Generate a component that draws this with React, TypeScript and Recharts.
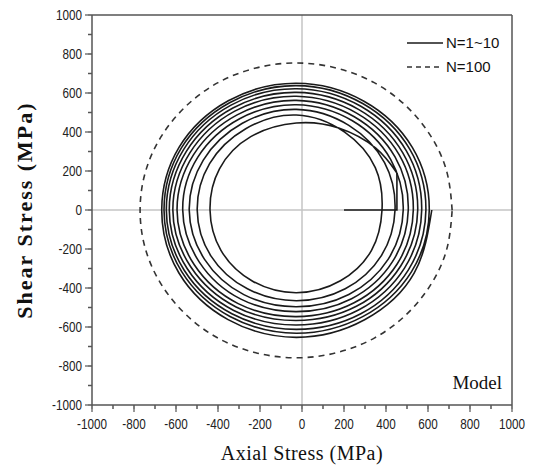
import React from 'react';
import { LineChart, Line, XAxis, YAxis, ReferenceLine } from 'recharts';

const xTicks = [-1000, -900, -800, -700, -600, -500, -400, -300, -200, -100, 0, 100, 200, 300, 400, 500, 600, 700, 800, 900, 1000];
const yTicks = [-1000, -900, -800, -700, -600, -500, -400, -300, -200, -100, 0, 100, 200, 300, 400, 500, 600, 700, 800, 900, 1000];

// Initial (elastic) loading segment of N=1~10
const elasticPath = [
  { x: 200, y: 0 },
  { x: 452, y: 0 },
  { x: 452, y: 190 },
];

// Cyclic spiral N=1~10 (points read every ~30 degrees around each cycle)
const cycle1 = [
  { x: 452, y: 190 }, { x: 350, y: 318 }, { x: 175, y: 420 }, { x: -27, y: 446 },
  { x: -244, y: 376 }, { x: -393, y: 211 }, { x: -438, y: 0 }, { x: -386, y: -207 },
  { x: -237, y: -364 }, { x: -27, y: -424 }, { x: 183, y: -363 }, { x: 331, y: -207 },
];
const cycle2 = [
  { x: 381, y: 0 }, { x: 349, y: 217 }, { x: 203, y: 399 }, { x: -27, y: 487 },
  { x: -268, y: 417 }, { x: -440, y: 238 }, { x: -499, y: 0 }, { x: -434, y: -235 },
  { x: -260, y: -404 }, { x: -27, y: -465 }, { x: 206, y: -404 }, { x: 378, y: -234 },
];
const cycle3 = [
  { x: 443, y: 0 }, { x: 393, y: 243 }, { x: 223, y: 434 }, { x: -27, y: 516 },
  { x: -284, y: 445 }, { x: -470, y: 256 }, { x: -537, y: 0 }, { x: -464, y: -253 },
  { x: -277, y: -434 }, { x: -27, y: -496 }, { x: 223, y: -433 }, { x: 410, y: -253 },
];
const cycle4 = [
  { x: 482, y: 0 }, { x: 422, y: 260 }, { x: 238, y: 459 }, { x: -27, y: 540 },
  { x: -297, y: 468 }, { x: -496, y: 271 }, { x: -568, y: 0 }, { x: -489, y: -267 },
  { x: -291, y: -457 }, { x: -27, y: -521 }, { x: 236, y: -455 }, { x: 431, y: -265 },
];
const cycle5 = [
  { x: 506, y: 0 }, { x: 443, y: 272 }, { x: 249, y: 478 }, { x: -27, y: 562 },
  { x: -309, y: 488 }, { x: -517, y: 283 }, { x: -595, y: 0 }, { x: -513, y: -281 },
  { x: -304, y: -480 }, { x: -27, y: -547 }, { x: 248, y: -476 }, { x: 453, y: -277 },
];
const cycle6 = [
  { x: 530, y: 0 }, { x: 463, y: 283 }, { x: 260, y: 497 }, { x: -27, y: 583 },
  { x: -320, y: 507 }, { x: -534, y: 293 }, { x: -615, y: 0 }, { x: -530, y: -291 },
  { x: -314, y: -497 }, { x: -27, y: -567 }, { x: 259, y: -494 }, { x: 470, y: -287 },
];
const cycle7 = [
  { x: 551, y: 0 }, { x: 480, y: 293 }, { x: 271, y: 515 }, { x: -27, y: 603 },
  { x: -329, y: 523 }, { x: -550, y: 302 }, { x: -632, y: 0 }, { x: -547, y: -300 },
  { x: -325, y: -515 }, { x: -27, y: -590 }, { x: 269, y: -513 }, { x: 488, y: -298 },
];
const cycle8 = [
  { x: 570, y: 0 }, { x: 497, y: 303 }, { x: 280, y: 532 }, { x: -27, y: 622 },
  { x: -338, y: 538 }, { x: -564, y: 310 }, { x: -646, y: 0 }, { x: -561, y: -309 },
  { x: -334, y: -532 }, { x: -27, y: -612 }, { x: 280, y: -532 }, { x: 506, y: -308 },
];
const cycle9 = [
  { x: 590, y: 0 }, { x: 513, y: 312 }, { x: 289, y: 546 }, { x: -27, y: 638 },
  { x: -345, y: 550 }, { x: -575, y: 317 }, { x: -657, y: 0 }, { x: -573, y: -316 },
  { x: -343, y: -546 }, { x: -27, y: -632 }, { x: 289, y: -547 }, { x: 521, y: -317 },
];
const cycle10 = [
  { x: 606, y: 0 }, { x: 526, y: 320 }, { x: 295, y: 558 }, { x: -27, y: 650 },
  { x: -351, y: 560 }, { x: -585, y: 322 }, { x: -668, y: 0 }, { x: -586, y: -323 },
  { x: -352, y: -562 }, { x: -27, y: -653 }, { x: 298, y: -563 }, { x: 534, y: -324 },
  { x: 618, y: 0 },
];
const cyclicPath = [
  ...cycle1, ...cycle2, ...cycle3, ...cycle4, ...cycle5,
  ...cycle6, ...cycle7, ...cycle8, ...cycle9, ...cycle10,
];

// N=100 stabilized loop, points read every 15 degrees
const n100Path = [
  { x: 715, y: -2 }, { x: 690, y: 194 }, { x: 615, y: 376 }, { x: 497, y: 532 },
  { x: 344, y: 653 }, { x: 164, y: 728 }, { x: -28, y: 754 }, { x: -220, y: 728 },
  { x: -400, y: 653 }, { x: -553, y: 532 }, { x: -671, y: 376 }, { x: -746, y: 194 },
  { x: -771, y: -2 }, { x: -746, y: -198 }, { x: -671, y: -380 }, { x: -553, y: -536 },
  { x: -400, y: -657 }, { x: -220, y: -732 }, { x: -28, y: -758 }, { x: 164, y: -732 },
  { x: 344, y: -657 }, { x: 497, y: -536 }, { x: 615, y: -380 }, { x: 690, y: -198 },
  { x: 715, y: -2 },
];

const legendLabels = ['N=1~10', 'N=100'];
const xTitle = 'Axial Stress (MPa)';
const yTitle = 'Shear Stress (MPa)';
const noteText = 'Model';

const TS = 4; // minor tick length
const EXT = 3; // extra length for major ticks
const X_TM = 9;
const Y_TM = 6;
const tickFont = "'Liberation Sans', Arial, sans-serif";
const isMajor = (v: number) => v % 200 === 0;

const XTick = (props: any) => {
  const { x, y, payload } = props;
  const v = payload.value;
  const lineTop = y - X_TM;
  return (
    <g>
      {isMajor(v) && <line x1={x} y1={lineTop} x2={x} y2={lineTop + EXT} stroke="#555" strokeWidth={1.2} />}
      {isMajor(v) && (
        <text x={0} y={0} dy="0.71em" textAnchor="middle" transform={`translate(${x},${y}) scale(0.78,1)`} fontSize={15} fontFamily={tickFont} fill="#222">
          {String(v)}
        </text>
      )}
    </g>
  );
};

const YTick = (props: any) => {
  const { x, y, payload } = props;
  const v = payload.value;
  const lineEnd = x + Y_TM;
  return (
    <g>
      {isMajor(v) && <line x1={lineEnd} y1={y} x2={lineEnd - EXT} y2={y} stroke="#555" strokeWidth={1.2} />}
      {isMajor(v) && (
        <text x={0} y={0} dy="0.355em" textAnchor="end" transform={`translate(${x},${y}) scale(0.78,1)`} fontSize={15} fontFamily={tickFont} fill="#222">
          {String(v)}
        </text>
      )}
    </g>
  );
};

export default function App() {
  return (
    <div style={{ position: 'absolute', left: 0, top: 0, width: 536, height: 470, background: '#fff' }}>
      <LineChart width={536} height={470} margin={{ top: 15, right: 24, bottom: 0, left: 0 }}>
        <XAxis
          type="number"
          dataKey="x"
          domain={[-1000, 1000]}
          ticks={xTicks}
          height={65}
          allowDataOverflow
          stroke="#555"
          strokeWidth={1.5}
          tickSize={TS}
          tickMargin={X_TM}
          interval={0}
          tick={<XTick />}
        />
        <YAxis
          type="number"
          dataKey="y"
          domain={[-1000, 1000]}
          ticks={yTicks}
          width={92}
          allowDataOverflow
          stroke="#555"
          strokeWidth={1.5}
          tickSize={TS}
          tickMargin={Y_TM}
          interval={0}
          tick={<YTick />}
        />
        <ReferenceLine x={0} stroke="#c4c4c4" strokeWidth={1.5} />
        <ReferenceLine y={0} stroke="#c4c4c4" strokeWidth={1.5} />
        <ReferenceLine y={1000} stroke="#555" strokeWidth={1.5} ifOverflow="visible" />
        <ReferenceLine x={1000} stroke="#555" strokeWidth={1.5} ifOverflow="visible" />
        <Line data={n100Path} dataKey="y" type="natural" stroke="#333" strokeWidth={1.6} strokeDasharray="6 5" dot={false} isAnimationActive={false} />
        <Line data={elasticPath} dataKey="y" type="linear" stroke="#1a1a1a" strokeWidth={1.6} dot={false} isAnimationActive={false} />
        <Line data={cyclicPath} dataKey="y" type="natural" stroke="#1a1a1a" strokeWidth={1.6} dot={false} isAnimationActive={false} />
      </LineChart>
      <svg width={536} height={470} style={{ position: 'absolute', left: 0, top: 0, pointerEvents: 'none' }}>
        <line x1={407} y1={43} x2={443} y2={43} stroke="#1a1a1a" strokeWidth={1.6} />
        <text x={446} y={48} fontSize={15} fontFamily="'Liberation Sans', Arial, sans-serif" fill="#111">{legendLabels[0]}</text>
        <line x1={407} y1={67} x2={443} y2={67} stroke="#333" strokeWidth={1.6} strokeDasharray="5 4" />
        <text x={446} y={72} fontSize={15} fontFamily="'Liberation Sans', Arial, sans-serif" fill="#111">{legendLabels[1]}</text>
        <text x={502} y={389} textAnchor="end" fontSize={19} fontFamily="'Liberation Serif', 'Times New Roman', serif" fill="#111">{noteText}</text>
        <text x={302} y={460} textAnchor="middle" fontSize={20} letterSpacing={0.5} fontFamily="'Liberation Serif', 'Times New Roman', serif" fill="#111">{xTitle}</text>
        <text x={32} y={210} textAnchor="middle" fontSize={22} fontWeight="bold" letterSpacing={2} transform="rotate(-90 32 210)" fontFamily="'Liberation Serif', 'Times New Roman', serif" fill="#111">{yTitle}</text>
      </svg>
    </div>
  );
}
